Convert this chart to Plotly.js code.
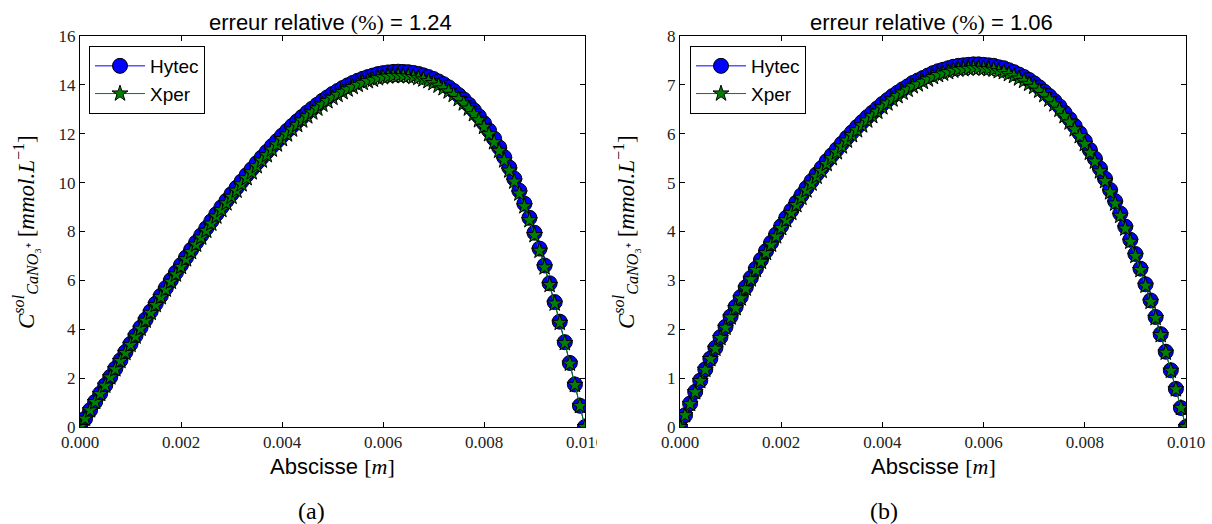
<!DOCTYPE html>
<html>
<head>
<meta charset="utf-8">
<script src="https://cdn.plot.ly/plotly-3.0.1.min.js"></script>
<style>html,body{margin:0;padding:0;background:#fff;}#chart{width:1212px;height:524px;}</style>
</head>
<body>
<div id="chart"></div>
<script>
// ---- data ----
const abscisse = [
  0.0000,0.0001,0.0002,0.0003,0.0004,0.0005,0.0006,0.0007,0.0008,0.0009,0.0010,
  0.0011,0.0012,0.0013,0.0014,0.0015,0.0016,0.0017,0.0018,0.0019,0.0020,
  0.0021,0.0022,0.0023,0.0024,0.0025,0.0026,0.0027,0.0028,0.0029,0.0030,
  0.0031,0.0032,0.0033,0.0034,0.0035,0.0036,0.0037,0.0038,0.0039,0.0040,
  0.0041,0.0042,0.0043,0.0044,0.0045,0.0046,0.0047,0.0048,0.0049,0.0050,
  0.0051,0.0052,0.0053,0.0054,0.0055,0.0056,0.0057,0.0058,0.0059,0.0060,
  0.0061,0.0062,0.0063,0.0064,0.0065,0.0066,0.0067,0.0068,0.0069,0.0070,
  0.0071,0.0072,0.0073,0.0074,0.0075,0.0076,0.0077,0.0078,0.0079,0.0080,
  0.0081,0.0082,0.0083,0.0084,0.0085,0.0086,0.0087,0.0088,0.0089,0.0090,
  0.0091,0.0092,0.0093,0.0094,0.0095,0.0096,0.0097,0.0098,0.0099,0.0100
];
const hytecA = [
  0, 0.34, 0.69, 1.03, 1.37, 1.71, 2.05, 2.39, 2.73, 3.07, 3.40,
  3.74, 4.07, 4.40, 4.73, 5.05, 5.37, 5.69, 6.01, 6.32, 6.63,
  6.94, 7.25, 7.55, 7.84, 8.13, 8.42, 8.71, 8.99, 9.26, 9.53,
  9.79, 10.05, 10.31, 10.55, 10.80, 11.03, 11.26, 11.49, 11.70, 11.92,
  12.12, 12.32, 12.51, 12.69, 12.87, 13.03, 13.19, 13.35, 13.49, 13.63,
  13.75, 13.87, 13.98, 14.08, 14.17, 14.25, 14.32, 14.38, 14.44, 14.48,
  14.51, 14.53, 14.54, 14.53, 14.52, 14.49, 14.45, 14.39, 14.32, 14.24,
  14.14, 14.03, 13.90, 13.75, 13.58, 13.40, 13.19, 12.96, 12.71, 12.43,
  12.13, 11.80, 11.44, 11.04, 10.62, 10.16, 9.67, 9.14, 8.56, 7.95,
  7.30, 6.61, 5.88, 5.11, 4.31, 3.47, 2.62, 1.74, 0.87, 0
];
const xperA = [
  0, 0.34, 0.68, 1.02, 1.35, 1.69, 2.03, 2.36, 2.70, 3.03, 3.36,
  3.70, 4.02, 4.35, 4.67, 4.99, 5.31, 5.62, 5.94, 6.24, 6.55,
  6.86, 7.16, 7.46, 7.75, 8.03, 8.32, 8.61, 8.88, 9.15, 9.42,
  9.67, 9.93, 10.18, 10.42, 10.67, 10.90, 11.12, 11.35, 11.56, 11.78,
  11.97, 12.17, 12.36, 12.54, 12.71, 12.87, 13.03, 13.19, 13.33, 13.47,
  13.59, 13.70, 13.81, 13.91, 14.00, 14.08, 14.15, 14.21, 14.27, 14.31,
  14.34, 14.36, 14.37, 14.36, 14.35, 14.32, 14.28, 14.22, 14.15, 14.07,
  13.97, 13.86, 13.73, 13.59, 13.42, 13.24, 13.03, 12.80, 12.55, 12.28,
  11.98, 11.65, 11.30, 10.91, 10.49, 10.04, 9.55, 9.03, 8.46, 7.85,
  7.21, 6.53, 5.81, 5.05, 4.26, 3.43, 2.59, 1.72, 0.86, 0
];
const hytecB = [
  0, 0.24, 0.48, 0.72, 0.95, 1.18, 1.40, 1.62, 1.84, 2.05, 2.26,
  2.46, 2.66, 2.86, 3.05, 3.24, 3.42, 3.60, 3.77, 3.94, 4.11,
  4.28, 4.43, 4.59, 4.74, 4.89, 5.03, 5.17, 5.30, 5.44, 5.56,
  5.68, 5.80, 5.92, 6.03, 6.14, 6.24, 6.34, 6.43, 6.52, 6.61,
  6.69, 6.77, 6.84, 6.91, 6.97, 7.04, 7.09, 7.14, 7.19, 7.24,
  7.28, 7.31, 7.34, 7.37, 7.39, 7.40, 7.41, 7.42, 7.42, 7.41,
  7.40, 7.39, 7.36, 7.34, 7.30, 7.26, 7.21, 7.16, 7.10, 7.03,
  6.95, 6.86, 6.77, 6.67, 6.56, 6.43, 6.30, 6.16, 6.01, 5.85,
  5.67, 5.49, 5.29, 5.08, 4.85, 4.62, 4.37, 4.10, 3.83, 3.54,
  3.24, 2.92, 2.59, 2.25, 1.90, 1.54, 1.16, 0.78, 0.39, 0
];
const xperB = [
  0, 0.24, 0.47, 0.71, 0.94, 1.17, 1.39, 1.60, 1.82, 2.03, 2.24,
  2.43, 2.63, 2.83, 3.02, 3.21, 3.38, 3.56, 3.73, 3.90, 4.07,
  4.23, 4.38, 4.54, 4.69, 4.84, 4.98, 5.12, 5.24, 5.38, 5.50,
  5.62, 5.74, 5.86, 5.97, 6.07, 6.17, 6.27, 6.36, 6.45, 6.54,
  6.62, 6.70, 6.77, 6.84, 6.90, 6.97, 7.01, 7.06, 7.11, 7.16,
  7.20, 7.23, 7.26, 7.29, 7.31, 7.32, 7.33, 7.34, 7.34, 7.33,
  7.32, 7.31, 7.28, 7.26, 7.22, 7.18, 7.13, 7.08, 7.02, 6.96,
  6.88, 6.79, 6.70, 6.60, 6.49, 6.36, 6.23, 6.09, 5.95, 5.79,
  5.61, 5.43, 5.23, 5.03, 4.80, 4.57, 4.32, 4.06, 3.79, 3.50,
  3.21, 2.89, 2.56, 2.23, 1.88, 1.52, 1.15, 0.77, 0.39, 0
];
const seriesNames = ["Hytec", "Xper"];
const errA = "1.24";
const errB = "1.06";
const panelLabels = ["(a)", "(b)"];
const xTickVals = [0, 0.002, 0.004, 0.006, 0.008, 0.010];

// ---- layout helpers ----
const W = 1212, H = 524;
const px = v => v / W;
const py = v => 1 - v / H;
const SERIF = "Liberation Serif, Times New Roman, serif";
const SANS = "Liberation Sans, Arial, sans-serif";

function axisBase(extra) {
  return Object.assign({
    showline: true, linecolor: "black", linewidth: 1, mirror: "allticks",
    ticks: "inside", ticklen: 5, tickwidth: 1, tickcolor: "black",
    showgrid: false, zeroline: false,
    tickfont: {family: SERIF, size: 17, color: "#222"}
  }, extra);
}

function circleTrace(x, y, name, xa, ya, lg) {
  return {
    type: "scatter", mode: "lines+markers", x: x, y: y, name: name,
    xaxis: xa, yaxis: ya, legend: lg,
    line: {color: "#0000ff", width: 1},
    marker: {symbol: "circle", size: 15, color: "#0000ff", line: {color: "black", width: 1}}
  };
}
function starTrace(x, y, name, xa, ya, lg) {
  return {
    type: "scatter", mode: "lines+markers", x: x, y: y, name: name,
    xaxis: xa, yaxis: ya, legend: lg,
    line: {color: "#008000", width: 1},
    marker: {symbol: "star", size: 12, color: "#008000", line: {color: "black", width: 1}}
  };
}

const data = [
  circleTrace(abscisse, hytecA, seriesNames[0], "x", "y", "legend"),
  starTrace(abscisse, xperA, seriesNames[1], "x", "y", "legend"),
  circleTrace(abscisse, hytecB, seriesNames[0], "x2", "y2", "legend2"),
  starTrace(abscisse, xperB, seriesNames[1], "x2", "y2", "legend2")
];

const yDom = [py(427), py(36)];
const legendBase = {
  yanchor: "top", xanchor: "left", bgcolor: "white", bordercolor: "black", borderwidth: 1,
  font: {family: SANS, size: 19, color: "black"}, tracegroupgap: 0, itemwidth: 50
};

const yTitle = "<i>C</i><sup><i>sol</i></sup><sub><i>CaNO</i>₃⁺</sub> [<i>mmol.L</i><sup>−1</sup>]";
const xTitle = "Abscisse <span style=\"font-family:Liberation Serif\">[<i>m</i>]</span>";
const mkTitle = e => "erreur relative <span style=\"font-family:Liberation Serif\">(%)</span> = " + e;

const ann = [];
function addAnn(text, x, y, size, family, angle) {
  ann.push({text: text, xref: "paper", yref: "paper", x: px(x), y: py(y),
    xanchor: "center", yanchor: "middle", showarrow: false, textangle: angle || 0,
    font: {family: family, size: size, color: "black"}});
}
addAnn(mkTitle(errA), 330, 22, 22, SANS);
addAnn(mkTitle(errB), 931, 22, 22, SANS);
addAnn(xTitle, 332.5, 466, 22, SANS);
addAnn(xTitle, 933, 466, 22, SANS);
addAnn(yTitle, 25, 232, 23, SERIF, -90);
addAnn(yTitle, 625, 232, 23, SERIF, -90);
addAnn(panelLabels[0], 311, 511, 24, SERIF);
addAnn(panelLabels[1], 884, 511, 24, SERIF);

const layout = {
  width: W, height: H, autosize: false,
  margin: {l: 0, r: 0, t: 0, b: 0, pad: 0},
  paper_bgcolor: "white", plot_bgcolor: "white",
  xaxis: axisBase({domain: [px(80), px(585)], range: [0, 0.01], tickvals: xTickVals, tickformat: ".3f", anchor: "y"}),
  yaxis: axisBase({domain: yDom, range: [0, 16], dtick: 2, tick0: 0, anchor: "x"}),
  xaxis2: axisBase({domain: [px(680), px(1186)], range: [0, 0.01], tickvals: xTickVals, tickformat: ".3f", anchor: "y2"}),
  yaxis2: axisBase({domain: yDom, range: [0, 8], dtick: 1, tick0: 0, anchor: "x2"}),
  legend: Object.assign({x: px(89), y: py(46)}, legendBase),
  legend2: Object.assign({x: px(690), y: py(46)}, legendBase),
  annotations: ann,
  shapes: [{type: "rect", xref: "paper", yref: "paper", layer: "above",
    x0: px(597), x1: px(609), y0: py(452), y1: py(429), fillcolor: "white", line: {width: 0}}]
};

Plotly.newPlot("chart", data, layout, {staticPlot: true, displayModeBar: false});
</script>
</body>
</html>
